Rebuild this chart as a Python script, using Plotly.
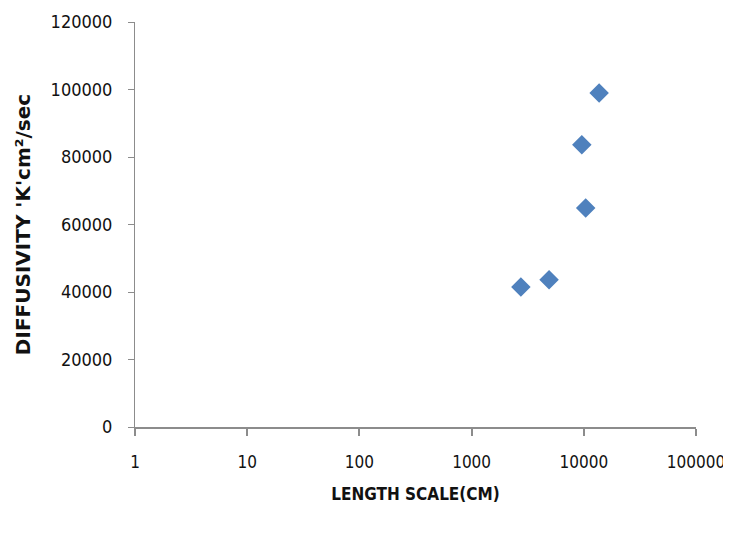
import plotly.graph_objects as go

length_scale_cm = [2750, 4900, 10400, 9600, 13700]
diffusivity = [41500, 43600, 64900, 83600, 99000]

x_tick_vals = [1, 10, 100, 1000, 10000, 100000]
x_tick_text = ["1", "10", "100", "1000", "10000", "100000"]
y_tick_vals = [0, 20000, 40000, 60000, 80000, 100000, 120000]
y_tick_text = ["0", "20000", "40000", "60000", "80000", "100000", "120000"]

font_family = "DejaVu Sans Condensed, Liberation Sans Narrow, sans-serif"

fig = go.Figure()
fig.add_trace(go.Scatter(
    x=length_scale_cm, y=diffusivity, mode="markers",
    marker=dict(symbol="diamond", size=15, color="#4F81BD",
                line=dict(width=0)),
    showlegend=False,
))

fig.update_layout(
    width=723, height=525,
    margin=dict(l=127, r=35, t=14, b=106),
    paper_bgcolor="white", plot_bgcolor="white",
    font=dict(family=font_family, size=18, color="#111111"),
    xaxis=dict(
        type="log", range=[0, 5], automargin=False,
        tickvals=x_tick_vals, ticktext=x_tick_text,
        showgrid=False, zeroline=False,
        showline=True, linecolor="#8c8c8c", linewidth=2,
        ticks="outside", tickcolor="#8c8c8c", tickwidth=2, ticklen=7,
        ticklabelstandoff=12,
        tickfont=dict(size=17, family=font_family, color="#111111"),
        title=dict(text="<b>LENGTH SCALE(CM)</b>", standoff=17,
                   font=dict(size=17, family=font_family, color="#111111")),
    ),
    yaxis=dict(
        range=[0, 120000], automargin=False,
        tickvals=y_tick_vals, ticktext=y_tick_text,
        showgrid=False, zeroline=False,
        showline=True, linecolor="#8c8c8c", linewidth=1,
        ticks="outside", tickcolor="#8c8c8c", tickwidth=1, ticklen=6,
        ticklabelstandoff=12,
        tickfont=dict(size=18, family=font_family, color="#111111"),
        title=dict(text="<b>DIFFUSIVITY 'K'cm²/sec</b>", standoff=14,
                   font=dict(size=20, family="DejaVu Sans, sans-serif", color="#111111")),
    ),
)

fig.write_html("out.html")
